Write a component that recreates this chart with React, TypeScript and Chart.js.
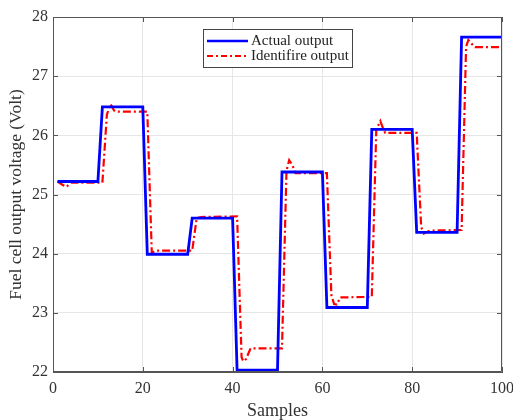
import React, { useEffect, useRef } from "react";
import { Chart, registerables } from "chart.js";

Chart.register(...registerables);

const xTicks = [0, 20, 40, 60, 80, 100];
const yTicks = [22, 23, 24, 25, 26, 27, 28];

const actualSamples = [1, 10, 11, 20, 21, 30, 31, 40, 41, 50, 51, 60, 61, 70, 71, 80, 81, 90, 91, 100];
const actualValues = [
  25.22, 25.22, 26.48, 26.48, 23.99, 23.99, 24.6, 24.6, 22.03, 22.03,
  25.38, 25.38, 23.09, 23.09, 26.1, 26.1, 24.36, 24.36, 27.66, 27.66,
];

const identSamples = [
  1, 2, 3, 4, 11,
  12, 12.8, 13.6, 14, 21,
  22, 23, 31,
  32, 33, 41,
  42, 42.4, 43, 44, 51,
  52, 52.6, 53.3, 54, 61,
  62, 62.6, 63.2, 64, 71,
  72, 72.9, 73.6, 74, 81,
  82, 82.6, 84, 91,
  92, 92.5, 93.2, 94, 100,
];
const identValues = [
  25.22, 25.17, 25.13, 25.2, 25.2,
  26.35, 26.53, 26.42, 26.4, 26.4,
  24.02, 24.05, 24.05,
  24.6, 24.62, 24.63,
  22.25, 22.18, 22.22, 22.4, 22.4,
  25.4, 25.58, 25.5, 25.36, 25.36,
  23.3, 23.15, 23.14, 23.26, 23.27,
  26.1, 26.24, 26.1, 26.04, 26.04,
  24.45, 24.34, 24.39, 24.4,
  27.5, 27.61, 27.55, 27.49, 27.49,
];

const seriesLabels = ["Actual output", "Identifire output"];
const seriesColors = ["#0000ff", "#ff0000"];
const xTitle = "Samples";
const yTitle = "Fuel cell output voltage (Volt)";

const FONT = "'Liberation Serif', 'Times New Roman', serif";
const AXIS_COLOR = "#555555";
const TEXT_COLOR = "#333333";
const RED_DASH = [8, 3, 2, 3];

const boxPlugin = {
  id: "matlabBox",
  afterDraw(chart: any) {
    const { ctx, chartArea } = chart;
    const { left, right, top, bottom } = chartArea;
    const xs = chart.scales.x;
    const ys = chart.scales.y;
    ctx.save();
    ctx.strokeStyle = AXIS_COLOR;
    ctx.lineWidth = 1;
    ctx.beginPath();
    ctx.moveTo(left + 0.5, top + 0.5);
    ctx.lineTo(right - 0.5, top + 0.5);
    ctx.lineTo(right - 0.5, bottom - 0.5);
    ctx.lineTo(left + 0.5, bottom - 0.5);
    ctx.closePath();
    ctx.stroke();
    const tl = 5;
    ctx.beginPath();
    xTicks.forEach((v) => {
      const px = Math.round(xs.getPixelForValue(v)) + 0.5;
      ctx.moveTo(px, bottom);
      ctx.lineTo(px, bottom - tl);
      ctx.moveTo(px, top);
      ctx.lineTo(px, top + tl);
    });
    yTicks.forEach((v) => {
      const py = Math.round(ys.getPixelForValue(v)) + 0.5;
      ctx.moveTo(left, py);
      ctx.lineTo(left + tl, py);
      ctx.moveTo(right, py);
      ctx.lineTo(right - tl, py);
    });
    ctx.stroke();

    // legend
    const lx = left + 150;
    const ly = top + 12;
    const lw = 149;
    const lh = 38;
    ctx.fillStyle = "#ffffff";
    ctx.fillRect(lx, ly, lw, lh);
    ctx.strokeStyle = "#444444";
    ctx.lineWidth = 1;
    ctx.strokeRect(lx + 0.5, ly + 0.5, lw, lh);
    const rows = [ly + 12, ly + 27];
    ctx.font = `15px ${FONT}`;
    ctx.textBaseline = "middle";
    ctx.textAlign = "left";
    rows.forEach((ry, i) => {
      ctx.beginPath();
      ctx.strokeStyle = seriesColors[i];
      ctx.lineWidth = i === 0 ? 2.5 : 2;
      ctx.setLineDash(i === 0 ? [] : [6, 3, 2, 3]);
      ctx.moveTo(lx + 4, ry);
      ctx.lineTo(lx + 45, ry);
      ctx.stroke();
      ctx.setLineDash([]);
      ctx.fillStyle = "#222222";
      ctx.fillText(seriesLabels[i], lx + 48, ry);
    });
    ctx.restore();
  },
};

export default function App() {
  const ref = useRef<HTMLCanvasElement | null>(null);

  useEffect(() => {
    document.body.style.margin = "0";
    const canvas = ref.current;
    if (!canvas) return;
    const chart = new Chart(canvas, {
      type: "line",
      data: {
        datasets: [
          {
            label: seriesLabels[0],
            data: actualSamples.map((x, i) => ({ x, y: actualValues[i] })),
            borderColor: seriesColors[0],
            backgroundColor: seriesColors[0],
            borderWidth: 2.8,
            pointRadius: 0,
            tension: 0,
            fill: false,
          },
          {
            label: seriesLabels[1],
            data: identSamples.map((x, i) => ({ x, y: identValues[i] })),
            borderColor: seriesColors[1],
            backgroundColor: seriesColors[1],
            borderWidth: 2.2,
            borderDash: RED_DASH,
            pointRadius: 0,
            tension: 0,
            fill: false,
          },
        ],
      },
      options: {
        responsive: false,
        animation: false,
        devicePixelRatio: 1,
        layout: { padding: { top: 17, right: 11, left: 0, bottom: 0 } },
        plugins: {
          legend: { display: false },
          tooltip: { enabled: false },
        },
        scales: {
          x: {
            type: "linear",
            min: 0,
            max: 100,
            afterFit: (s: any) => {
              s.height = 48;
              s.paddingLeft = 0;
              s.paddingRight = 0;
            },
            afterBuildTicks: (s: any) => {
              s.ticks = xTicks.map((v) => ({ value: v }));
            },
            grid: { color: "#e6e6e6", drawTicks: false, lineWidth: 1 },
            border: { display: true, color: AXIS_COLOR },
            ticks: {
              padding: 7,
              color: TEXT_COLOR,
              font: { family: FONT, size: 16 },
              maxRotation: 0,
            },
            title: {
              display: true,
              text: xTitle,
              color: TEXT_COLOR,
              font: { family: FONT, size: 18, lineHeight: 1 },
              padding: { top: 0, bottom: 0 },
            },
          },
          y: {
            type: "linear",
            min: 22,
            max: 28,
            afterFit: (s: any) => {
              s.width = 53;
              s.paddingTop = 0;
              s.paddingBottom = 0;
            },
            afterBuildTicks: (s: any) => {
              s.ticks = yTicks.map((v) => ({ value: v }));
            },
            grid: { color: "#e6e6e6", drawTicks: false, lineWidth: 1 },
            border: { display: true, color: AXIS_COLOR },
            ticks: {
              padding: 5,
              color: TEXT_COLOR,
              font: { family: FONT, size: 16 },
            },
            title: {
              display: true,
              text: yTitle,
              color: TEXT_COLOR,
              font: { family: FONT, size: 17.5, lineHeight: 1.2 },
              padding: { top: 6, bottom: 0 },
            },
          },
        },
      },
      plugins: [boxPlugin],
    });
    return () => chart.destroy();
  }, []);

  return (
    <div style={{ width: 513, height: 420, overflow: "hidden" }}>
      <canvas ref={ref} width={513} height={420} style={{ display: "block" }} />
    </div>
  );
}
